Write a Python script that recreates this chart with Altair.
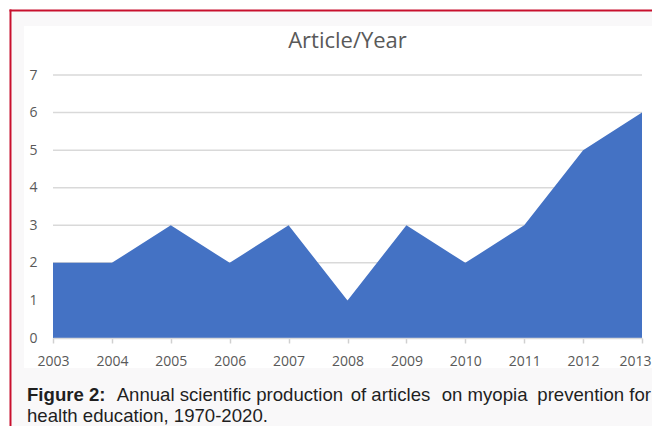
import altair as alt
import pandas as pd

# ---- data ----
years = [2003, 2004, 2005, 2006, 2007, 2008, 2009, 2010, 2011, 2012, 2013]
articles = [2, 2, 3, 2, 3, 1, 3, 2, 3, 5, 6]
y_ticks = [0, 1, 2, 3, 4, 5, 6, 7]

title_text = "Article/Year"
caption_bold = "Figure 2:"
caption_line1 = ["Annual scientific production", "of articles", "on myopia", "prevention for"]
caption_line2 = "health education, 1970-2020."

# ---- layout (plot area starts at page x=53, y=75) ----
W, H = 589, 263
PAD = {"left": 45, "top": 67, "right": 10, "bottom": 88}
RIGHT = W + PAD["right"]
BOTTOM = H + PAD["bottom"]

df = pd.DataFrame({"year": years, "articles": articles})
grid_df = pd.DataFrame({"v": y_ticks})
one = pd.DataFrame({"k": [0]})

xscale = alt.Scale(domain=[years[0], years[-1]], nice=False, zero=False)
yscale = alt.Scale(domain=[0, 7], nice=False)

label_color = "#595959"
border_color = "#c8102e"

y_axis = alt.Axis(
    values=y_ticks, title=None, grid=False, domain=False,
    ticks=False, tickSize=0, labelPadding=16,
    labelFont="Open Sans", labelFontSize=14, labelColor=label_color,
    zindex=1,
)

bg_gray = alt.Chart(one).mark_rect(color="#f9f8f9").encode(
    x=alt.value(-41), x2=alt.value(RIGHT), y=alt.value(-64), y2=alt.value(BOTTOM)
)
bg_white = alt.Chart(one).mark_rect(color="#ffffff").encode(
    x=alt.value(-29), x2=alt.value(RIGHT), y=alt.value(-49), y2=alt.value(293)
)
border_top = alt.Chart(one).mark_rule(color=border_color, strokeWidth=2).encode(
    x=alt.value(-43.5), x2=alt.value(RIGHT), y=alt.value(-64.5)
)
border_left = alt.Chart(one).mark_rule(color=border_color, strokeWidth=2).encode(
    x=alt.value(-42.5), y=alt.value(-65.5), y2=alt.value(BOTTOM)
)

grid = alt.Chart(grid_df).mark_rule(color="#d9d9d9", strokeWidth=1.5).encode(
    y=alt.Y("v:Q", scale=yscale, axis=y_axis),
    x=alt.value(0),
    x2=alt.value(W),
)

area = alt.Chart(df).mark_area(color="#4472C4", opacity=1).encode(
    x=alt.X(
        "year:Q",
        scale=xscale,
        axis=alt.Axis(
            values=years, format="d", title=None, grid=False,
            domainColor="#d9d9d9", domainWidth=1.5,
            tickColor="#d0d0d0", tickSize=5, tickWidth=1.5,
            labelPadding=11, labelFont="Open Sans", labelFontSize=14,
            labelColor=label_color, labelFlush=False, zindex=1,
            labelOffset={"condition": {"test": "datum.value == 2013", "value": -7}, "value": 0},
        ),
    ),
    y=alt.Y("articles:Q", scale=yscale, axis=y_axis),
)

title = alt.Chart(one).mark_text(
    text=title_text, font="Open Sans", fontSize=22, color=label_color,
    align="center", baseline="alphabetic",
).encode(x=alt.value(W / 2), y=alt.value(-26.7))

cap_style = dict(font="Liberation Sans", fontSize=18.6, color="#1f1f1f", baseline="alphabetic")
L1, L2 = 326, 346.7
cap_b = alt.Chart(one).mark_text(text=caption_bold, fontWeight="bold", align="left", **cap_style).encode(
    x=alt.value(-26), y=alt.value(L1)
)
cap_w1 = alt.Chart(one).mark_text(text=caption_line1[0], align="left", **cap_style).encode(
    x=alt.value(63.7), y=alt.value(L1)
)
cap_w2 = alt.Chart(one).mark_text(text=caption_line1[1], align="left", **cap_style).encode(
    x=alt.value(297.7), y=alt.value(L1)
)
cap_w3 = alt.Chart(one).mark_text(text=caption_line1[2], align="left", **cap_style).encode(
    x=alt.value(388.7), y=alt.value(L1)
)
cap_w4 = alt.Chart(one).mark_text(text=caption_line1[3], align="right", **cap_style).encode(
    x=alt.value(W + 9), y=alt.value(L1)
)
cap_2 = alt.Chart(one).mark_text(text=caption_line2, align="left", **cap_style).encode(
    x=alt.value(-26), y=alt.value(L2)
)

chart = alt.layer(
    bg_gray, bg_white, border_top, border_left, grid, area, title,
    cap_b, cap_w1, cap_w2, cap_w3, cap_w4, cap_2,
).properties(
    width=W, height=H,
    autosize=alt.AutoSizeParams(type="none"),
    padding=PAD,
    background="white",
).configure_view(stroke=None)

chart.save("out.html", embed_options={"renderer": "svg", "actions": False})
